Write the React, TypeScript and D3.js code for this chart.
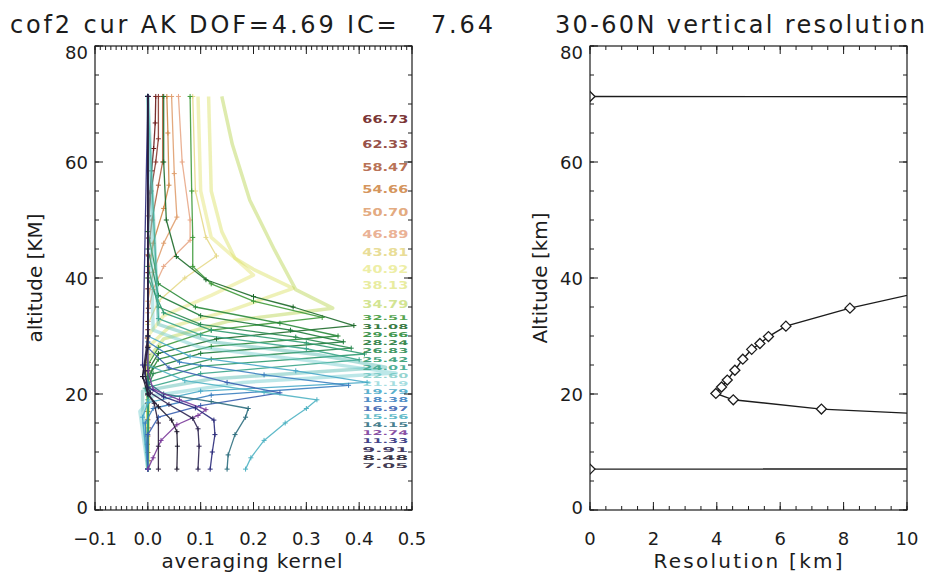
import * as d3 from "d3";

// retrieval levels (km) and the labels printed at the right edge of the AK panel
const LEVELS = [
  7.05, 8.48, 9.91, 11.33, 12.74, 14.15, 15.56, 16.97, 18.38, 19.79, 21.19, 22.6, 24.01, 25.42,
  26.83, 28.24, 29.66, 31.08, 32.51, 34.79, 38.13, 40.92, 43.81, 46.89, 50.7, 54.66, 58.47, 62.33,
  66.73,
];
const LEVEL_LABELS = [
  "7.05", "8.48", "9.91", "11.33", "12.74", "14.15", "15.56", "16.97", "18.38", "19.79", "21.19",
  "22.60", "24.01", "25.42", "26.83", "28.24", "29.66", "31.08", "32.51", "34.79", "38.13", "40.92",
  "43.81", "46.89", "50.70", "54.66", "58.47", "62.33", "66.73",
];
const TOP_ALT = 71.3;

// averaging kernel rows, [value, altitude]
const K_0705 = [[0.02, 7.05], [0.02, 11], [0.02, 15], [0.012, 18.4], [0.0, 20], [-0.005, 24], [0.0, 30], [0.0, 71.3]];
const K_0848 = [[0.055, 7.05], [0.056, 11], [0.055, 13.5], [0.045, 15.5], [0.02, 17.8], [0.0, 20], [-0.01, 23], [0.0, 28], [0.0, 71.3]];
const K_0991 = [[0.095, 7.05], [0.097, 11], [0.095, 14], [0.085, 15.8], [0.04, 18.2], [0.005, 20.2], [-0.01, 23], [0.0, 30], [0.0, 71.3]];
const K_1133 = [[0.118, 7.05], [0.122, 10], [0.127, 13], [0.125, 15.5], [0.09, 17.6], [0.03, 19.5], [0.0, 21.2], [-0.01, 25], [0.0, 71.3]];
const K_1274 = [[0.0, 7.05], [0.01, 9], [0.025, 12], [0.055, 14.7], [0.095, 16.3], [0.11, 17.3], [0.06, 19], [0.01, 20.8], [0.0, 24], [0.0, 71.3]];
const K_1415 = [[0.15, 7.05], [0.152, 9.5], [0.165, 13], [0.185, 16], [0.19, 17.5], [0.12, 18.7], [0.03, 20], [0.0, 22], [0.0, 71.3]];
const K_1556 = [[0.185, 7.05], [0.195, 9], [0.22, 12], [0.26, 15], [0.3, 17.5], [0.32, 19], [0.22, 20.3], [0.07, 22.3], [0.0, 25], [0.0, 71.3]];
const K_1697 = [[0.0, 7.05], [0.0, 13], [0.02, 16], [0.1, 18], [0.25, 20.2], [0.15, 22], [0.04, 24.5], [0.0, 28], [0.0, 71.3]];
const K_1838 = [[0.0, 7.05], [-0.005, 15], [0.01, 17.5], [0.12, 19.8], [0.38, 21.5], [0.22, 23.3], [0.06, 25.5], [0.0, 29], [0.0, 71.3]];
const K_1979 = [[0.0, 7.05], [-0.01, 16], [0.0, 18.5], [0.1, 20.5], [0.415, 22.0], [0.28, 24], [0.08, 26.5], [0.0, 30], [0.0, 71.3]];
const K_2119 = [[0.0, 7.05], [-0.015, 17], [0.01, 19.7], [0.18, 22], [0.47, 23.6], [0.3, 25.8], [0.1, 28], [0.01, 31], [0.0, 71.3]];
const K_2260 = [[0.0, 7.05], [-0.01, 18], [-0.01, 20.5], [0.12, 22.6], [0.45, 24.6], [0.32, 26.8], [0.12, 29], [0.02, 32], [0.0, 71.3]];
const K_2401 = [[0.0, 7.05], [0.0, 19], [-0.005, 21], [0.1, 23.5], [0.4, 25.9], [0.3, 27.8], [0.1, 30.2], [0.02, 33], [0.0, 71.3]];
const K_2542 = [[0.0, 7.05], [0.0, 20], [0.0, 22], [0.1, 24.8], [0.41, 26.9], [0.3, 28.8], [0.12, 31], [0.03, 34], [0.0, 40], [0.0, 71.3]];
const K_2683 = [[0.0, 7.05], [0.0, 21], [0.01, 23.5], [0.12, 26], [0.385, 27.9], [0.28, 29.8], [0.1, 32], [0.02, 35], [0.0, 42], [0.0, 71.3]];
const K_2824 = [[0.0, 7.05], [0.0, 22], [0.01, 24.5], [0.1, 27], [0.37, 29.0], [0.27, 31], [0.1, 33.5], [0.02, 37], [0.0, 45], [0.0, 71.3]];
const K_2966 = [[0.0, 7.05], [0.0, 23], [0.02, 26], [0.12, 28.2], [0.36, 30.0], [0.25, 32.2], [0.09, 35], [0.02, 39], [0.0, 48], [0.0, 71.3]];
const K_3108 = [[0.0, 7.05], [0.0, 24], [0.02, 27], [0.13, 29.5], [0.39, 31.8], [0.275, 35], [0.2, 36.8], [0.11, 39.7], [0.054, 43.7], [0.035, 50], [0.03, 60], [0.03, 71.3]];
const K_3251 = [[0.0, 7.05], [0.0, 25], [0.02, 28], [0.12, 31], [0.33, 33.2], [0.2, 36], [0.12, 39], [0.085, 42], [0.085, 47], [0.083, 55], [0.08, 71.3]];
const K_3479 = [[0.0, 7.05], [0.0, 26], [0.03, 29.5], [0.15, 32.5], [0.35, 34.8], [0.28, 38], [0.24, 44.8], [0.193, 53.4], [0.16, 63], [0.14, 71.3]];
const K_3813 = [[0.0, 7.05], [0.0, 28], [0.04, 31.5], [0.16, 34.5], [0.275, 38.2], [0.2, 41.5], [0.165, 43.4], [0.14, 48], [0.12, 55], [0.115, 71.3]];
const K_4092 = [[0.0, 7.05], [0.0, 30], [0.03, 33.5], [0.12, 37], [0.2, 40.5], [0.165, 43.4], [0.12, 47], [0.1, 55], [0.095, 71.3]];
const K_4381 = [[0.0, 7.05], [0.0, 32], [0.02, 36], [0.07, 40], [0.13, 43.8], [0.11, 47], [0.09, 55], [0.085, 71.3]];
const K_4689 = [[0.0, 7.05], [0.0, 34], [0.01, 38], [0.03, 42], [0.08, 46.5], [0.08, 50], [0.065, 60], [0.058, 71.3]];
const K_5070 = [[0.0, 7.05], [0.0, 36], [0.01, 41], [0.03, 46], [0.055, 50.5], [0.05, 58], [0.045, 71.3]];
const K_5466 = [[0.0, 7.05], [0.0, 40], [0.01, 46], [0.03, 52], [0.04, 56], [0.038, 65], [0.036, 71.3]];
const K_5847 = [[0.0, 7.05], [0.0, 44], [0.008, 50], [0.02, 56], [0.028, 60], [0.028, 71.3]];
const K_6233 = [[0.0, 7.05], [0.0, 48], [0.006, 55], [0.015, 60], [0.02, 64], [0.02, 71.3]];
const K_6673_VALUES = [
  0.0, 0.001, 0.0, -0.001, 0.0, 0.001, 0.0, 0.0, -0.001, 0.0, 0.001, 0.0, 0.0, 0.001, 0.0, 0.0,
  -0.001, 0.0, 0.0, 0.001, 0.0, 0.0, 0.001, 0.001, 0.002, 0.004, 0.007, 0.011, 0.014, 0.015,
];
const K_6673 = K_6673_VALUES.map((v, i) => [v, i < LEVELS.length ? LEVELS[i] : TOP_ALT]);

const KERNELS = [
  K_0705, K_0848, K_0991, K_1133, K_1274, K_1415, K_1556, K_1697, K_1838, K_1979, K_2119, K_2260,
  K_2401, K_2542, K_2683, K_2824, K_2966, K_3108, K_3251, K_3479, K_3813, K_4092, K_4381, K_4689,
  K_5070, K_5466, K_5847, K_6233, K_6673,
];

// colour of each level, bottom to top
const LEVEL_COLORS = [
  "#2b1f3d", "#1f1a2e", "#2d2350", "#2a2a7a", "#7a3a9a", "#2f6f7f", "#4fb3c3", "#3a5fb0",
  "#3b7fc0", "#48a8c8", "#6cc9cc", "#4fb8b0", "#3aa58a", "#2f9a70", "#2a8a50", "#1f7a3a",
  "#2a8a3a", "#1d6a2a", "#3f9a3a", "#b5d34a", "#d9e060", "#e2e36a", "#e6d98a", "#e8a888",
  "#e0a070", "#d08848", "#b06040", "#8a3a30", "#6a1a1a",
];
const THICK = new Set([10, 11, 19, 20, 21]);

// vertical resolution profile
const RES_ALT = [71.3, 66.7, 38.1, 34.8, 31.7, 29.9, 28.7, 27.7, 26.0, 24.1, 22.4, 21.2, 20.1, 19.0, 17.4, 15.8, 8.5, 7.05];
const RES_KM = [0, 900, 10.9, 8.2, 6.18, 5.63, 5.36, 5.1, 4.82, 4.57, 4.33, 4.15, 3.97, 4.52, 7.3, 13.5, 600, 0];

const FONT = "DejaVu Sans";
const INK = "#1c1c1c";
const LEFT = { x0: 95, x1: 412, y0: 46, y1: 510 };
const RIGHT = { x0: 590, x1: 907, y0: 46, y1: 510 };

type Box = { x0: number; x1: number; y0: number; y1: number };

function Frame({
  box, x, y, xMajor, xMinor, yMajor, yMinor, xFmt,
}: {
  box: Box;
  x: d3.ScaleLinear<number, number>;
  y: d3.ScaleLinear<number, number>;
  xMajor: number[];
  xMinor: number[];
  yMajor: number[];
  yMinor: number[];
  xFmt: (v: number) => string;
}) {
  const ticks: string[] = [];
  xMinor.forEach((v) => {
    const px = x(v);
    ticks.push(`M${px},${box.y1}v-4M${px},${box.y0}v4`);
  });
  xMajor.forEach((v) => {
    const px = x(v);
    ticks.push(`M${px},${box.y1}v-8M${px},${box.y0}v8`);
  });
  yMinor.forEach((v) => {
    const py = y(v);
    ticks.push(`M${box.x0},${py}h4M${box.x1},${py}h-4`);
  });
  yMajor.forEach((v) => {
    const py = y(v);
    ticks.push(`M${box.x0},${py}h8M${box.x1},${py}h-8`);
  });
  return (
    <g>
      <rect x={box.x0} y={box.y0} width={box.x1 - box.x0} height={box.y1 - box.y0} fill="none" stroke={INK} strokeWidth={1.2} />
      <path d={ticks.join("")} stroke={INK} strokeWidth={1} fill="none" />
      {xMajor.map((v) => (
        <text key={`x${v}`} x={x(v)} y={545} textAnchor="middle" fontSize={18} fill={INK}>
          {xFmt(v)}
        </text>
      ))}
      {yMajor.map((v) => (
        <text
          key={`y${v}`}
          x={box.x0 - 7}
          y={Math.min(Math.max(y(v), box.y0 + 6), box.y1 - 3)}
          textAnchor="end"
          dominantBaseline="central"
          fontSize={18}
          fill={INK}
        >
          {v}
        </text>
      ))}
    </g>
  );
}

export default function App() {
  const xAk = d3.scaleLinear().domain([-0.1, 0.5]).range([LEFT.x0, LEFT.x1]);
  const yAlt = d3.scaleLinear().domain([0, 80]).range([LEFT.y1, LEFT.y0]);
  const xRes = d3.scaleLinear().domain([0, 10]).range([RIGHT.x0, RIGHT.x1]);

  const akLine = d3
    .line<number[]>()
    .x((d) => xAk(d[0]))
    .y((d) => yAlt(d[1]));

  const resPoints = RES_KM.map((r, i) => [r, RES_ALT[i]]);
  const resLine = d3
    .line<number[]>()
    .x((d) => xRes(d[0]))
    .y((d) => yAlt(d[1]));

  const fmtAk = d3.format(".1f");
  const order = d3.range(KERNELS.length).reverse();

  // labels of closely spaced levels get a smaller font so they stay apart
  const labelSize = (i: number) => {
    const below = i > 0 ? LEVELS[i] - LEVELS[i - 1] : 99;
    const above = i < LEVELS.length - 1 ? LEVELS[i + 1] - LEVELS[i] : 99;
    return Math.min(below, above) < 2 ? 6.6 : 11;
  };

  return (
    <svg
      width={940}
      height={577}
      viewBox="0 0 940 577"
      style={{ position: "absolute", left: 0, top: 0, background: "#fff" }}
      fontFamily={FONT}
    >
      <defs>
        <clipPath id="clipLeft">
          <rect x={LEFT.x0} y={LEFT.y0} width={LEFT.x1 - LEFT.x0} height={LEFT.y1 - LEFT.y0} />
        </clipPath>
        <clipPath id="clipRight">
          <rect x={RIGHT.x0} y={RIGHT.y0} width={RIGHT.x1 - RIGHT.x0} height={RIGHT.y1 - RIGHT.y0} />
        </clipPath>
        <filter id="soft" x="-5%" y="-5%" width="110%" height="110%">
          <feGaussianBlur stdDeviation="0.45" />
        </filter>
      </defs>
      <rect width={940} height={577} fill="#fff" />

      {/* titles */}
      <text x={10} y={33} fontSize={24} fill={INK} textLength={483} lengthAdjust="spacing" style={{ whiteSpace: "pre" }}>
        {"cof2 cur AK DOF=4.69 IC=   7.64"}
      </text>
      <text x={555} y={33} fontSize={24} fill={INK} textLength={370} lengthAdjust="spacing">
        30-60N vertical resolution
      </text>

      {/* left panel: averaging kernels */}
      <g clipPath="url(#clipLeft)" filter="url(#soft)">
        {order.map((i) => {
          const k = KERNELS[i];
          const thick = THICK.has(i);
          return (
            <g key={`k${i}`}>
              <path
                d={akLine(k) ?? ""}
                fill="none"
                stroke={LEVEL_COLORS[i]}
                strokeWidth={thick ? 3.5 : 1.3}
                strokeOpacity={thick ? 0.45 : 0.9}
                strokeLinejoin="round"
              />
              {!thick &&
                k.map((d, j) => (
                  <path
                    key={j}
                    d={`M${xAk(d[0]) - 2.5},${yAlt(d[1])}h5M${xAk(d[0])},${yAlt(d[1]) - 2.5}v5`}
                    stroke={LEVEL_COLORS[i]}
                    strokeWidth={1}
                  />
                ))}
            </g>
          );
        })}
      </g>
      <g clipPath="url(#clipLeft)">
        {LEVELS.map((z, i) => (
          <text
            key={`l${i}`}
            x={xAk(0.406)}
            y={yAlt(z) - (labelSize(i) < 10 ? 1 : 0)}
            fontSize={labelSize(i)}
            fontWeight="bold"
            fill={LEVEL_COLORS[i]}
            fillOpacity={THICK.has(i) ? 0.6 : 0.9}
            textLength={46}
            lengthAdjust="spacingAndGlyphs"
          >
            {LEVEL_LABELS[i]}
          </text>
        ))}
      </g>
      <Frame
        box={LEFT}
        x={xAk}
        y={yAlt}
        xMajor={d3.range(-0.1, 0.501, 0.1).map((v) => +v.toFixed(2))}
        xMinor={d3.range(-0.1, 0.501, 0.01).map((v) => +v.toFixed(3))}
        yMajor={[0, 20, 40, 60, 80]}
        yMinor={d3.range(0, 81, 5)}
        xFmt={fmtAk}
      />
      <text x={252} y={568} textAnchor="middle" fontSize={20} fill={INK} textLength={181} lengthAdjust="spacing">
        averaging kernel
      </text>
      <text
        transform={`translate(42,${(LEFT.y0 + LEFT.y1) / 2}) rotate(-90)`}
        textAnchor="middle"
        fontSize={20}
        fill={INK}
      >
        altitude [KM]
      </text>

      {/* right panel: vertical resolution */}
      <g clipPath="url(#clipRight)">
        <path d={resLine(resPoints) ?? ""} fill="none" stroke={INK} strokeWidth={1.4} />
        {resPoints.map((d, i) => (
          <path
            key={`d${i}`}
            d={`M${xRes(d[0]) - 5},${yAlt(d[1])}L${xRes(d[0])},${yAlt(d[1]) - 5}L${xRes(d[0]) + 5},${yAlt(d[1])}L${xRes(d[0])},${yAlt(d[1]) + 5}Z`}
            fill="#fff"
            stroke={INK}
            strokeWidth={1.3}
          />
        ))}
      </g>
      <Frame
        box={RIGHT}
        x={xRes}
        y={yAlt}
        xMajor={[0, 2, 4, 6, 8, 10]}
        xMinor={d3.range(0, 10.01, 0.5)}
        yMajor={[0, 20, 40, 60, 80]}
        yMinor={d3.range(0, 81, 5)}
        xFmt={(v) => String(v)}
      />
      <text x={748} y={568} textAnchor="middle" fontSize={20} fill={INK} textLength={189} lengthAdjust="spacing">
        Resolution [km]
      </text>
      <text
        transform={`translate(${RIGHT.x0 - 43},${(RIGHT.y0 + RIGHT.y1) / 2}) rotate(-90)`}
        textAnchor="middle"
        fontSize={20}
        fill={INK}
      >
        Altitude [km]
      </text>
    </svg>
  );
}
